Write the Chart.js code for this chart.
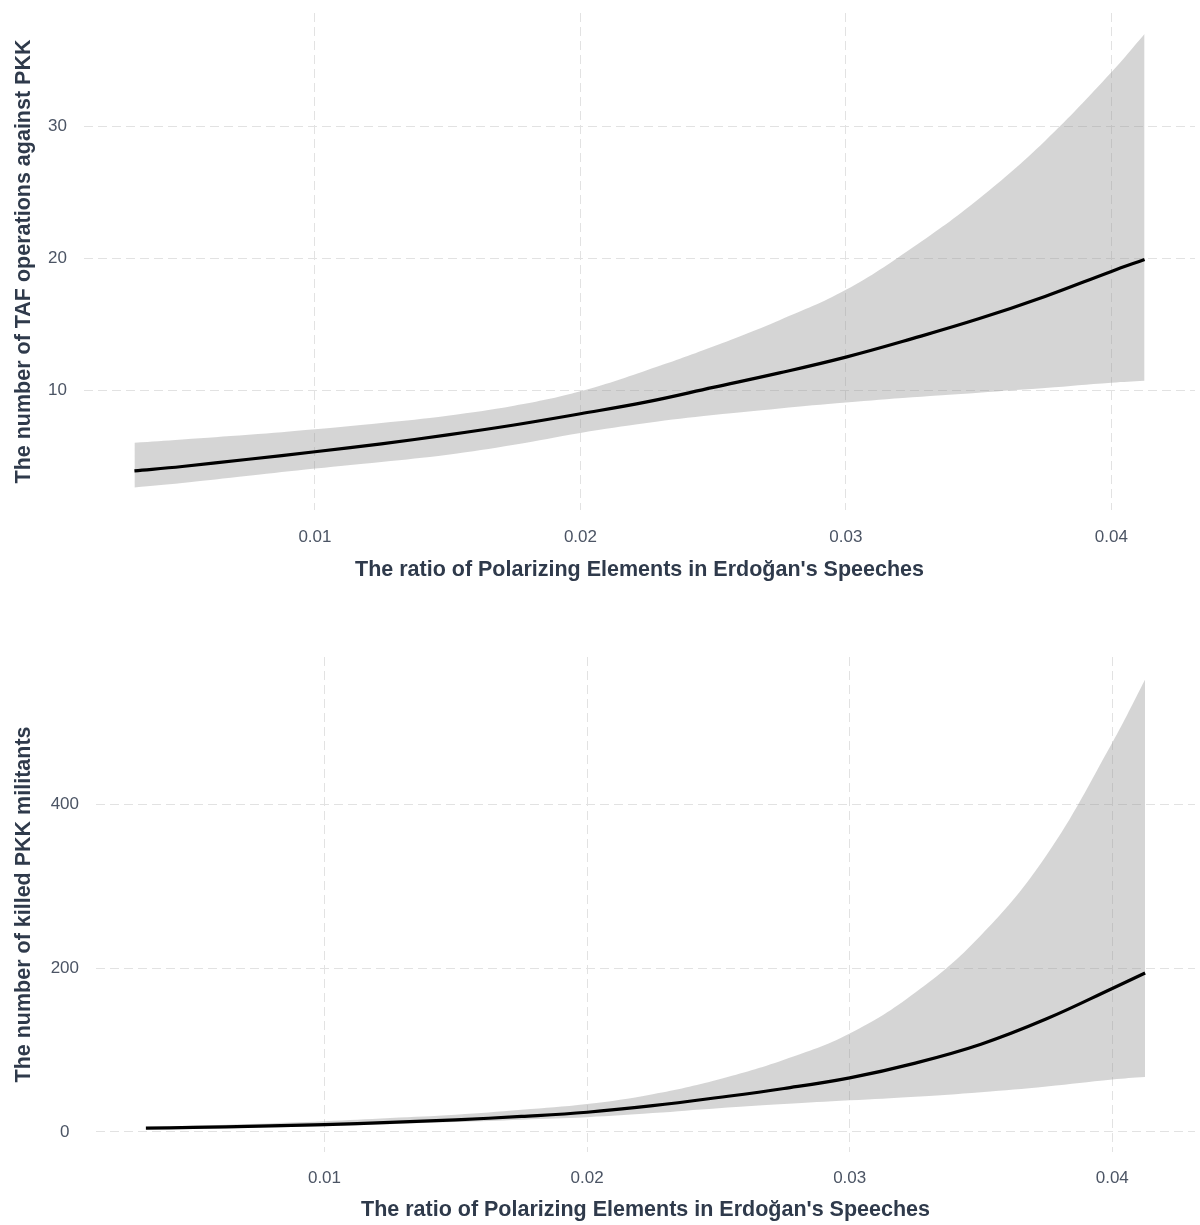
<!DOCTYPE html>
<html>
<head>
<meta charset="utf-8">
<script src="https://cdn.jsdelivr.net/npm/chart.js@4.4.1/dist/chart.umd.min.js"></script>
<style>
  html, body { margin: 0; padding: 0; background: #ffffff; }
  #wrap { position: relative; width: 1200px; height: 1225px; }
  #c1 { position: absolute; left: 0; top: 0; }
  #c2 { position: absolute; left: 0; top: 612px; }
</style>
</head>
<body>
<div id="wrap">
  <canvas id="c1" width="1200" height="612"></canvas>
  <canvas id="c2" width="1200" height="613"></canvas>
</div>
<script>
// ---- data ----
const xValues = [0.0032, 0.005, 0.0075, 0.01, 0.0125, 0.015, 0.0175, 0.02, 0.0225, 0.025, 0.0275, 0.03, 0.0325, 0.035, 0.0375, 0.04, 0.04125];

const opsFit   = [3.87, 4.2, 4.75, 5.32, 5.92, 6.6, 7.35, 8.2, 9.1, 10.2, 11.3, 12.5, 13.9, 15.4, 17.1, 19.0, 19.9];
const opsUpper = [6.0, 6.25, 6.6, 7.02, 7.5, 8.05, 8.8, 9.9, 11.5, 13.3, 15.3, 17.6, 20.8, 24.5, 28.9, 34.1, 37.0];
const opsLower = [2.61, 2.95, 3.5, 4.05, 4.55, 5.1, 5.85, 6.75, 7.5, 8.1, 8.6, 9.05, 9.45, 9.8, 10.15, 10.55, 10.7];

const killedFit   = [4.6, 5.5, 7.0, 9.0, 11.6, 14.8, 18.9, 24, 32, 42, 53, 66, 84, 107, 138, 175, 194];
const killedUpper = [6, 7.5, 10, 13, 17, 21, 27, 34, 46, 64, 88, 120, 170, 240, 338, 475, 552];
const killedLower = [3.5, 4, 5.2, 7, 9.5, 12, 15, 18, 23, 29, 34, 38.5, 43, 48.5, 55.5, 64, 67];

const xTicks = [0.01, 0.02, 0.03, 0.04];
const opsYTicks = [10, 20, 30];
const killedYTicks = [0, 200, 400];

const xTitle = "The ratio of Polarizing Elements in Erdoğan's Speeches";
const opsYTitle = "The number of TAF operations against PKK";
const killedYTitle = "The number of killed PKK militants";

// ---- styling ----
const FONT = "'Liberation Sans', Arial, sans-serif";
const TICK_COLOR = '#4b5464';
const TITLE_COLOR = '#2f3a4b';
const GRID_COLOR = '#e2e2e2';
const BAND_COLOR = 'rgba(150,150,150,0.40)';

function pts(ys) { return xValues.map((x, i) => ({ x: x, y: ys[i] })); }

function makeChart(canvasId, cfg) {
  const ctx = document.getElementById(canvasId).getContext('2d');
  return new Chart(ctx, {
    type: 'line',
    data: {
      datasets: [
        { data: pts(cfg.fit), borderColor: '#000000', borderWidth: 3.2, pointRadius: 0,
          fill: false, tension: 0.4 },
        { data: pts(cfg.upper), borderWidth: 0, borderColor: 'rgba(0,0,0,0)', pointRadius: 0,
          backgroundColor: BAND_COLOR, fill: '+1', tension: 0.4 },
        { data: pts(cfg.lower), borderWidth: 0, borderColor: 'rgba(0,0,0,0)', pointRadius: 0,
          fill: false, tension: 0.4 }
      ]
    },
    options: {
      responsive: false,
      animation: false,
      devicePixelRatio: 1,
      layout: { padding: { top: cfg.padTop, right: 5, left: 0, bottom: 0 } },
      plugins: { legend: { display: false }, tooltip: { enabled: false } },
      scales: {
        x: {
          type: 'linear',
          min: 0.0013, max: 0.04315,
          afterBuildTicks: s => { s.ticks = xTicks.map(v => ({ value: v })); },
          afterFit: s => { s.height = cfg.xAxisHeight; s.paddingLeft = 0; s.paddingRight = 0; },
          border: { display: false, dash: [9, 5] },
          grid: { color: GRID_COLOR, lineWidth: 1, drawTicks: false },
          ticks: { padding: cfg.xTickPad, color: TICK_COLOR, font: { family: FONT, size: 17 },
                   maxRotation: 0, callback: v => Number(v).toFixed(2) },
          title: { display: true, text: xTitle, color: TITLE_COLOR,
                   font: { family: FONT, size: 21.5, weight: 'bold' },
                   padding: { top: 0, bottom: cfg.xTitlePad } }
        },
        y: {
          type: 'linear',
          min: cfg.ymin, max: cfg.ymax,
          afterBuildTicks: s => { s.ticks = cfg.yTicks.map(v => ({ value: v })); },
          afterFit: s => { s.width = cfg.yAxisWidth; s.paddingTop = 0; s.paddingBottom = 0; },
          border: { display: false, dash: [9, 5] },
          grid: { color: GRID_COLOR, lineWidth: 1, drawTicks: false },
          ticks: { padding: 17, crossAlign: 'center', color: TICK_COLOR,
                   font: { family: FONT, size: 17 }, callback: v => String(v) },
          title: { display: true, text: cfg.yTitle, color: TITLE_COLOR,
                   font: { family: FONT, size: 21.5, weight: 'bold' },
                   padding: { top: 11, bottom: 0 } }
        }
      }
    }
  });
}

makeChart('c1', {
  fit: opsFit, upper: opsUpper, lower: opsLower,
  ymin: 0.9, ymax: 38.6, yTicks: opsYTicks, yTitle: opsYTitle,
  padTop: 13, xAxisHeight: 102, xTickPad: 17, xTitlePad: 29, yAxisWidth: 84
});

makeChart('c2', {
  fit: killedFit, upper: killedUpper, lower: killedLower,
  ymin: -24.5, ymax: 579.5, yTicks: killedYTicks, yTitle: killedYTitle,
  padTop: 45, xAxisHeight: 73, xTickPad: 16, xTitlePad: 2, yAxisWidth: 96
});
</script>
</body>
</html>
